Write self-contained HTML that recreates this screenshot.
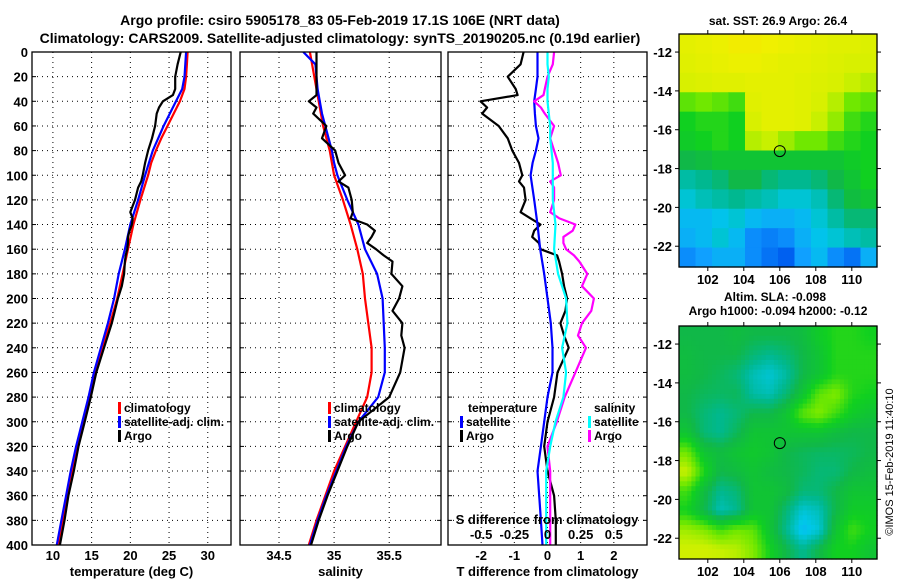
<!DOCTYPE html>
<html><head><meta charset="utf-8"><style>
body{margin:0;background:#fff;width:900px;height:580px;overflow:hidden}
svg{display:block;font-family:"Liberation Sans",Arial,sans-serif;font-weight:bold}
</style></head><body>
<svg id="fig" width="900" height="580" viewBox="0 0 900 580" xmlns="http://www.w3.org/2000/svg">
<text x="340" y="25" font-size="14" text-anchor="middle">Argo profile: csiro 5905178_83 05-Feb-2019 17.1S 106E (NRT data)</text>
<text x="340" y="43" font-size="14" text-anchor="middle">Climatology: CARS2009. Satellite-adjusted climatology: synTS_20190205.nc (0.19d earlier)</text>
<text x="778" y="25" font-size="12" text-anchor="middle">sat. SST: 26.9 Argo: 26.4</text>
<text x="775" y="301" font-size="12" text-anchor="middle">Altim. SLA: -0.098</text>
<text x="778" y="315" font-size="12" text-anchor="middle">Argo h1000: -0.094 h2000: -0.12</text>
<text transform="translate(893,462) rotate(-90)" font-size="11" font-weight="normal" text-anchor="middle">©IMOS 15-Feb-2019 11:40:10</text>
<g id="g"></g>
</svg>
<script>
// depth levels (m)
const depthT = [0,10,20,30,40,50,60,70,80,90,100,120,140,160,180,200,220,240,260,280,300,320,340,360,380,400];
const tempClim = [27.4,27.3,27.2,27.0,26.4,25.6,24.8,24.0,23.3,22.7,22.3,21.3,20.4,19.7,19.0,18.3,17.4,16.4,15.5,14.8,14.0,13.2,12.5,11.9,11.3,10.7];
const tempSat  = [27.2,27.1,27.0,26.7,25.9,25.1,24.3,23.6,22.9,22.4,21.9,21.0,20.0,19.3,18.5,17.9,17.1,16.2,15.3,14.6,13.8,13.0,12.3,11.7,11.1,10.5];
const depthA = [0,10,20,30,35,40,45,50,60,70,80,90,100,105,110,120,130,135,140,145,150,155,160,165,170,180,190,200,210,220,230,240,260,280,300,320,340,360,380,400];
const tempArgo = [26.5,26.1,25.8,25.8,25.5,24.2,23.7,23.4,23.2,22.8,22.3,21.9,21.6,21.4,21.0,20.6,20.0,20.3,20.2,19.9,19.7,19.7,19.6,19.4,19.3,19.2,18.9,18.4,18.0,17.6,17.1,16.6,15.6,14.9,14.1,13.3,12.7,12.0,11.5,10.9];
const salClim = [34.78,34.80,34.82,34.84,34.86,34.88,34.90,34.93,34.96,34.98,35.00,35.08,35.15,35.21,35.26,35.28,35.31,35.34,35.34,35.30,35.20,35.10,35.00,34.92,34.84,34.77];
const salSat  = [34.72,34.83,34.84,34.85,34.87,34.89,34.92,34.95,34.98,35.00,35.03,35.12,35.22,35.28,35.39,35.44,35.45,35.46,35.46,35.40,35.22,35.11,35.02,34.93,34.85,34.78];
const salArgo = [34.84,34.84,34.84,34.84,34.84,34.77,34.84,34.81,34.93,34.89,35.01,35.04,35.10,35.04,35.13,35.16,35.17,35.15,35.30,35.37,35.34,35.30,35.38,35.45,35.53,35.52,35.62,35.59,35.53,35.62,35.61,35.64,35.60,35.50,35.22,35.12,35.03,34.94,34.86,34.79];
const dTArgo = [-0.72,-0.81,-1.2,-0.96,-0.9,-2.02,-1.82,-1.97,-1.47,-1.2,-1.06,-0.86,-0.76,-0.86,-0.71,-0.66,-0.81,-0.51,-0.21,-0.4,-0.46,-0.26,-0.21,0.29,0.35,0.44,0.5,0.59,0.54,0.39,0.5,0.64,0.3,0.2,0.0,-0.1,0.0,0.2,0.25,0.25];
const dTSat = [-0.3,-0.3,-0.3,-0.35,-0.4,-0.38,-0.35,-0.27,-0.35,-0.45,-0.51,-0.4,-0.3,-0.22,-0.1,0.0,0.1,0.15,0.15,0.0,-0.1,-0.2,-0.3,-0.25,-0.2,-0.15];
const dSSat = [0.0,0.0,0.01,0.0,0.0,0.01,0.02,0.02,0.03,0.04,0.04,0.04,0.06,0.05,0.08,0.14,0.15,0.11,0.14,0.12,0.06,0.02,-0.01,-0.01,-0.01,-0.01];
const dSArgo = [0.05,0.04,0.0,-0.02,-0.03,-0.1,-0.05,-0.02,0.05,0.02,0.05,0.08,0.1,0.02,0.05,0.05,0.02,0.09,0.21,0.19,0.12,0.12,0.14,0.2,0.24,0.3,0.26,0.35,0.33,0.26,0.23,0.29,0.21,0.13,0.07,0.0,0.02,0.02,0.02,0.02];
const depthTicks = [0,20,40,60,80,100,120,140,160,180,200,220,240,260,280,300,320,340,360,380,400];
const tempTicks = [10,15,20,25,30];
const salTicks = [34.5,35,35.5];
const diffTTicks = [-2,-1,0,1,2];
const diffSTicks = [-0.5,-0.25,0,0.25,0.5];
const lonTicks = [102,104,106,108,110];
const latTicks = [-12,-14,-16,-18,-20,-22];
const sstGrid = [
[0.87,0.88,0.89,0.91,0.91,0.9,0.89,0.88,0.87,0.86,0.86,0.85],
[0.86,0.87,0.88,0.89,0.89,0.88,0.87,0.87,0.86,0.85,0.84,0.84],
[0.84,0.85,0.86,0.86,0.87,0.87,0.87,0.86,0.85,0.84,0.8,0.78],
[0.68,0.7,0.68,0.65,0.86,0.87,0.87,0.86,0.84,0.78,0.7,0.68],
[0.6,0.62,0.62,0.6,0.84,0.87,0.87,0.86,0.8,0.74,0.65,0.62],
[0.58,0.6,0.62,0.6,0.78,0.8,0.75,0.7,0.7,0.65,0.62,0.6],
[0.5,0.52,0.55,0.55,0.55,0.55,0.55,0.55,0.55,0.55,0.58,0.6],
[0.4,0.42,0.45,0.5,0.5,0.45,0.42,0.42,0.45,0.5,0.55,0.6],
[0.35,0.38,0.4,0.42,0.4,0.38,0.35,0.35,0.38,0.45,0.52,0.55],
[0.3,0.3,0.32,0.35,0.3,0.28,0.28,0.3,0.35,0.4,0.45,0.45],
[0.28,0.3,0.35,0.3,0.22,0.2,0.22,0.28,0.32,0.35,0.38,0.4],
[0.22,0.25,0.28,0.28,0.22,0.18,0.15,0.25,0.3,0.22,0.18,0.28]];
const slaGrid = [
[0.5,0.5,0.5,0.52,0.5,0.5,0.5,0.52,0.58,0.62,0.62,0.6],
[0.52,0.5,0.5,0.5,0.45,0.42,0.45,0.5,0.55,0.62,0.62,0.62],
[0.52,0.5,0.48,0.45,0.38,0.35,0.4,0.5,0.55,0.62,0.62,0.62],
[0.5,0.48,0.47,0.48,0.4,0.38,0.45,0.55,0.68,0.72,0.62,0.6],
[0.5,0.45,0.42,0.45,0.5,0.5,0.55,0.68,0.72,0.65,0.58,0.55],
[0.55,0.45,0.42,0.48,0.55,0.55,0.55,0.55,0.55,0.52,0.5,0.5],
[0.7,0.55,0.52,0.55,0.57,0.55,0.5,0.48,0.47,0.47,0.48,0.5],
[0.8,0.62,0.5,0.52,0.55,0.52,0.5,0.48,0.45,0.45,0.5,0.52],
[0.65,0.52,0.42,0.45,0.55,0.55,0.52,0.45,0.45,0.5,0.55,0.55],
[0.6,0.5,0.38,0.42,0.55,0.55,0.45,0.35,0.38,0.5,0.58,0.58],
[0.75,0.72,0.65,0.7,0.68,0.55,0.42,0.3,0.35,0.55,0.65,0.6],
[0.82,0.82,0.8,0.78,0.72,0.6,0.5,0.42,0.5,0.6,0.6,0.55]];
const argoPos = [106, -17.1];

const NS="http://www.w3.org/2000/svg";
const G=document.getElementById('g');
function mk(tag,at,parent){const e=document.createElementNS(NS,tag);for(const k in at)e.setAttribute(k,at[k]);(parent||G).appendChild(e);return e;}
const TOP=52,BOT=545;
const yD=d=>TOP+(d/400)*(BOT-TOP);
function lin(d0,d1,r0,r1){return v=>r0+(v-d0)/(d1-d0)*(r1-r0);}
const panels=[
 {name:'temperature',x0:32,x1:231,sx:lin(7.3,33.0,32,231),ticks:tempTicks,title:'temperature (deg C)'},
 {name:'salinity',x0:240,x1:441,sx:lin(34.146,35.97,240,441),ticks:salTicks,title:'salinity'},
 {name:'difference',x0:448,x1:647,sx:lin(-3,3,448,647),ticks:diffTTicks,title:'T difference from climatology'}];
panels.forEach((p,pi)=>{
  const grp=mk('g',{});
  
  
  depthTicks.forEach(d=>{
    if(d>0&&d<400){const l=mk('line',{x1:p.x0,x2:p.x1,y1:yD(d),y2:yD(d),stroke:'#000','stroke-width':1,'stroke-dasharray':'1,4'},grp);
      
      }
    mk('line',{x1:p.x0,x2:p.x0+4,y1:yD(d),y2:yD(d),stroke:'#000'},grp);
    mk('line',{x1:p.x1-4,x2:p.x1,y1:yD(d),y2:yD(d),stroke:'#000'},grp);
    if(pi===0){const t=mk('text',{x:28,y:yD(d)+5,'font-size':13,'text-anchor':'end'},grp);t.textContent=d;
      
      }
  });
  p.ticks.forEach(v=>{const x=p.sx(v);
    const l=mk('line',{x1:x,x2:x,y1:TOP,y2:BOT,stroke:'#000','stroke-dasharray':'1,4'},grp);
    
    
    const t=mk('text',{x:x,y:560,'font-size':13,'text-anchor':'middle'},grp);t.textContent=v;
    
    });
  const tt=mk('text',{x:(p.x0+p.x1)/2,y:576,'font-size':13,'text-anchor':'middle'},grp);tt.textContent=p.title;
  
  
  p.grp=grp;
});
function series(xs,ds,sx,color,name,grp){
  const pts=xs.map((v,i)=>sx(v).toFixed(1)+','+yD(ds[i]).toFixed(1)).join(' ');
  const e=mk('polyline',{points:pts,fill:'none',stroke:color,'stroke-width':2.2,'stroke-linejoin':'round'},grp);
  
  
}
const P=panels;
series(tempClim,depthT,P[0].sx,'#ff0000','temp-climatology-line',P[0].grp);
series(tempSat,depthT,P[0].sx,'#0000ff','temp-satellite-line',P[0].grp);
series(tempArgo,depthA,P[0].sx,'#000','temp-argo-line',P[0].grp);
series(salClim,depthT,P[1].sx,'#ff0000','sal-climatology-line',P[1].grp);
series(salSat,depthT,P[1].sx,'#0000ff','sal-satellite-line',P[1].grp);
series(salArgo,depthA,P[1].sx,'#000','sal-argo-line',P[1].grp);
const sxS=lin(-0.75,0.75,448,647);
series(dTArgo,depthA,P[2].sx,'#000','tdiff-argo-line',P[2].grp);
series(dTSat,depthT,P[2].sx,'#0000ff','tdiff-satellite-line',P[2].grp);
series(dSArgo,depthA,sxS,'#ff00ff','sdiff-argo-line',P[2].grp);
series(dSSat,depthT,sxS,'#00ffff','sdiff-satellite-line',P[2].grp);
P.forEach(p=>{mk('rect',{x:p.x0,y:TOP,width:p.x1-p.x0,height:BOT-TOP,fill:'none',stroke:'#000','stroke-width':1.3},p.grp);});
const sl=mk('text',{x:547,y:524,'font-size':13,'text-anchor':'middle'},P[2].grp);sl.textContent='S difference from climatology';


diffSTicks.forEach(v=>{const t=mk('text',{x:sxS(v),y:539,'font-size':13,'text-anchor':'middle'},P[2].grp);t.textContent=v;
  
  });
function leg(x,y,color,label,grp){
  mk('rect',{x:x,y:y-10,width:3,height:12,fill:color},grp);
  const t=mk('text',{x:x+6,y:y,'font-size':12},grp);t.textContent=label;
  
  
}
[['#f00','climatology'],['#00f','satellite-adj. clim.'],['#000','Argo']].forEach((e,i)=>{
  leg(118,412+i*14,e[0],e[1],P[0].grp); leg(328,412+i*14,e[0],e[1],P[1].grp);});
const lt=mk('text',{x:468,y:412,'font-size':12},P[2].grp);lt.textContent='temperature';


const ls=mk('text',{x:594,y:412,'font-size':12},P[2].grp);ls.textContent='salinity';


leg(460,426,'#00f','satellite',P[2].grp);leg(460,440,'#000','Argo',P[2].grp);
leg(588,426,'#0ff','satellite',P[2].grp);leg(588,440,'#f0f','Argo',P[2].grp);
const stops=[[0,[0,32,192]],[0.15,[0,96,240]],[0.25,[16,160,255]],[0.33,[0,200,232]],[0.42,[0,184,144]],[0.5,[16,184,72]],[0.6,[16,208,32]],[0.7,[112,232,0]],[0.8,[200,240,0]],[0.9,[240,240,0]],[1,[255,200,0]]];
function cmap(v){v=Math.max(0,Math.min(1,v));for(let i=1;i<stops.length;i++){if(v<=stops[i][0]){const a=stops[i-1],b=stops[i],f=(v-a[0])/(b[0]-a[0]);return 'rgb('+a[1].map((c,k)=>Math.round(c+(b[1][k]-c)*f)).join(',')+')';}}return 'rgb(255,200,0)';}
function sample(grid,fy,fx){ // bilinear sample in cell-centre coordinates
  const R=grid.length,C=grid[0].length;
  fy=Math.max(0,Math.min(R-1,fy));fx=Math.max(0,Math.min(C-1,fx));
  const r0=Math.floor(fy),c0=Math.floor(fx),r1=Math.min(R-1,r0+1),c1=Math.min(C-1,c0+1),a=fy-r0,b=fx-c0;
  return grid[r0][c0]*(1-a)*(1-b)+grid[r0][c1]*(1-a)*b+grid[r1][c0]*a*(1-b)+grid[r1][c1]*a*b;
}
function drawMap(grid,top,name,sub){
  const x0=679,x1=877,h=233;
  const mx=lin(100.4,111.4,x0,x1), my=lin(-11.07,-23.07,top,top+h);
  const grp=mk('g',{});
  
  
  const R=grid.length*sub,C=grid[0].length*sub;
  for(let r=0;r<R;r++)for(let c=0;c<C;c++){
    const v=sample(grid,(r+0.5)/sub-0.5,(c+0.5)/sub-0.5);
    const cell=mk('rect',{x:x0+c*(x1-x0)/C,y:top+r*h/R,width:(x1-x0)/C+0.6,height:h/R+0.6,fill:cmap(v)},grp);
    
    
  }
  mk('rect',{x:x0,y:top,width:x1-x0,height:h,fill:'none',stroke:'#000','stroke-width':1.3},grp);
  lonTicks.forEach(v=>{const x=mx(v);mk('line',{x1:x,x2:x,y1:top,y2:top-4,stroke:'#000'},grp);mk('line',{x1:x,x2:x,y1:top+h,y2:top+h+4,stroke:'#000'},grp);
    const t=mk('text',{x:x,y:top+h+17,'font-size':13,'text-anchor':'middle'},grp);t.textContent=v;
    
    });
  latTicks.forEach(v=>{const y=my(v);mk('line',{x1:x0,x2:x0-4,y1:y,y2:y,stroke:'#000'},grp);mk('line',{x1:x1,x2:x1+4,y1:y,y2:y,stroke:'#000'},grp);
    const t=mk('text',{x:672,y:y+5,'font-size':13,'text-anchor':'end'},grp);t.textContent=v;
    
    });
  const m=mk('circle',{cx:mx(argoPos[0]),cy:my(argoPos[1]),r:5.5,fill:'none',stroke:'#000','stroke-width':1},grp);
  
  
}
drawMap(sstGrid,34,'sst-map',1);
drawMap(slaGrid,326,'sla-map',4);
</script>
</body></html>
